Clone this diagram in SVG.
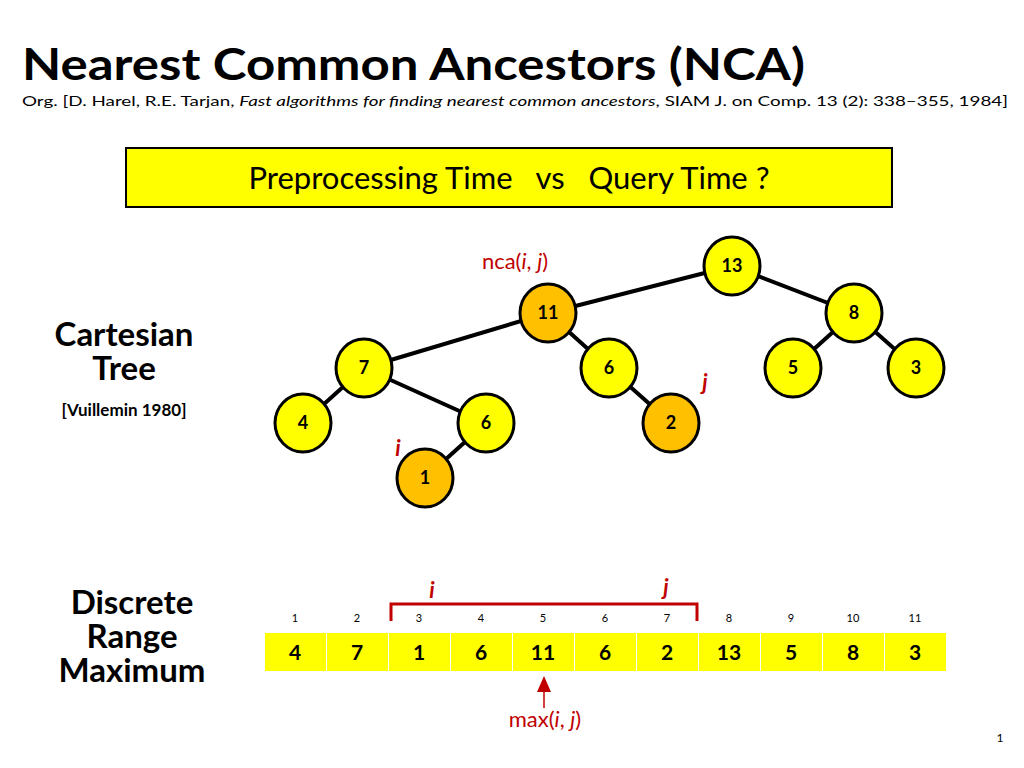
<svg xmlns="http://www.w3.org/2000/svg" width="1024" height="768" viewBox="0 0 1024 768">
<style>
text{font-family:Lato,"Liberation Sans",sans-serif}
.n ellipse{stroke:#000;stroke-width:3}
.y{fill:#ffff00}.o{fill:#ffc000}
.n text{font-weight:bold;font-size:18px;text-anchor:middle}
.e line{stroke:#000;stroke-width:4}
.cell{fill:#ffff00}
.cv{font-weight:bold;font-size:21px;text-anchor:middle}
.idx{font-size:11px;text-anchor:middle}
.red{fill:#c00000}
.lab{font-weight:bold;text-anchor:middle}
</style>
<rect width="1024" height="768" fill="#fff"/>
<text x="22" y="80" font-size="44" font-weight="bold" textLength="783" lengthAdjust="spacingAndGlyphs">Nearest Common Ancestors (NCA)</text>
<text x="22" y="106" font-size="14" textLength="986" lengthAdjust="spacingAndGlyphs">Org. [D. Harel, R.E. Tarjan, <tspan font-style="italic">Fast algorithms for finding nearest common ancestors</tspan>, SIAM J. on Comp. 13 (2): 338–355, 1984]</text>
<rect x="126" y="148" width="766" height="59" fill="#ffff00" stroke="#000" stroke-width="2"/>
<text x="509" y="189" font-size="31" text-anchor="middle" xml:space="preserve">Preprocessing Time   vs   Query Time ?</text>
<text class="lab" x="124" y="346" font-size="33">Cartesian</text>
<text class="lab" x="124" y="380" font-size="33">Tree</text>
<text class="lab" x="124" y="416" font-size="17">[Vuillemin 1980]</text>
<text class="lab" x="132" y="614" font-size="33">Discrete</text>
<text class="lab" x="132" y="648" font-size="33">Range</text>
<text class="lab" x="132" y="682" font-size="33">Maximum</text>
<g id="connectors" class="e">
<line x1="732" y1="266" x2="548" y2="313"/>
<line x1="732" y1="266" x2="854" y2="313"/>
<line x1="548" y1="313" x2="364" y2="368"/>
<line x1="548" y1="313" x2="609" y2="368"/>
<line x1="854" y1="313" x2="793" y2="368"/>
<line x1="854" y1="313" x2="916" y2="368"/>
<line x1="364" y1="368" x2="303" y2="423"/>
<line x1="364" y1="368" x2="486" y2="423"/>
<line x1="609" y1="368" x2="671" y2="423"/>
<line x1="486" y1="423" x2="425" y2="478"/>
</g>
<g id="n13" class="n"><ellipse class="y" cx="732" cy="266" rx="28" ry="29"/><text x="732" y="272">13</text></g>
<g id="n11" class="n"><ellipse class="o" cx="548" cy="313" rx="28" ry="29"/><text x="548" y="319">11</text></g>
<g id="n8" class="n"><ellipse class="y" cx="854" cy="313" rx="28" ry="29"/><text x="854" y="319">8</text></g>
<g id="n7" class="n"><ellipse class="y" cx="364" cy="368" rx="28" ry="29"/><text x="364" y="374">7</text></g>
<g id="n6a" class="n"><ellipse class="y" cx="609" cy="368" rx="28" ry="29"/><text x="609" y="374">6</text></g>
<g id="n5" class="n"><ellipse class="y" cx="793" cy="368" rx="28" ry="29"/><text x="793" y="374">5</text></g>
<g id="n3" class="n"><ellipse class="y" cx="916" cy="368" rx="28" ry="29"/><text x="916" y="374">3</text></g>
<g id="n4" class="n"><ellipse class="y" cx="303" cy="423" rx="28" ry="29"/><text x="303" y="429">4</text></g>
<g id="n6b" class="n"><ellipse class="y" cx="486" cy="423" rx="28" ry="29"/><text x="486" y="429">6</text></g>
<g id="n2" class="n"><ellipse class="o" cx="671" cy="423" rx="28" ry="29"/><text x="671" y="429">2</text></g>
<g id="n1" class="n"><ellipse class="o" cx="425" cy="478" rx="28" ry="29"/><text x="425" y="484">1</text></g>
<text class="red" x="515" y="269" font-size="22" text-anchor="middle">nca(<tspan font-style="italic">i</tspan>, <tspan font-style="italic">j</tspan>)</text>
<text class="red" x="705" y="390" font-size="22" font-weight="bold" font-style="italic" text-anchor="middle">j</text>
<text class="red" x="398" y="456" font-size="22" font-weight="bold" font-style="italic" text-anchor="middle">i</text>
<g id="array">
<rect class="cell" x="265" y="633" width="61" height="38"/><rect class="cell" x="327" y="633" width="61" height="38"/>
<rect class="cell" x="389" y="633" width="61" height="38"/><rect class="cell" x="451" y="633" width="61" height="38"/>
<rect class="cell" x="513" y="633" width="61" height="38"/><rect class="cell" x="575" y="633" width="61" height="38"/>
<rect class="cell" x="637" y="633" width="61" height="38"/><rect class="cell" x="699" y="633" width="61" height="38"/>
<rect class="cell" x="761" y="633" width="61" height="38"/><rect class="cell" x="823" y="633" width="61" height="38"/>
<rect class="cell" x="885" y="633" width="61" height="38"/>
<text class="cv" y="660"><tspan x="295">4</tspan><tspan x="357">7</tspan><tspan x="419">1</tspan><tspan x="481">6</tspan><tspan x="543">11</tspan><tspan x="605">6</tspan><tspan x="667">2</tspan><tspan x="729">13</tspan><tspan x="791">5</tspan><tspan x="853">8</tspan><tspan x="915">3</tspan></text>
<text class="idx" y="622"><tspan x="295">1</tspan><tspan x="357">2</tspan><tspan x="419">3</tspan><tspan x="481">4</tspan><tspan x="543">5</tspan><tspan x="605">6</tspan><tspan x="667">7</tspan><tspan x="729">8</tspan><tspan x="791">9</tspan><tspan x="853">10</tspan><tspan x="915">11</tspan></text>
</g>
<path d="M391 621 V604 H697 V621" fill="none" stroke="#c00000" stroke-width="3"/>
<text class="red" x="432" y="598" font-size="22" font-weight="bold" font-style="italic" text-anchor="middle">i</text>
<text class="red" x="666" y="595" font-size="22" font-weight="bold" font-style="italic" text-anchor="middle">j</text>
<line x1="544" y1="708" x2="544" y2="690" stroke="#c00000" stroke-width="1.5"/>
<polygon points="544,676 537,692 551,692" fill="#c00000"/>
<text class="red" x="545" y="727" font-size="22" text-anchor="middle">max(<tspan font-style="italic">i</tspan>, <tspan font-style="italic">j</tspan>)</text>
<text x="1000" y="742" font-size="12" text-anchor="middle">1</text>
</svg>
